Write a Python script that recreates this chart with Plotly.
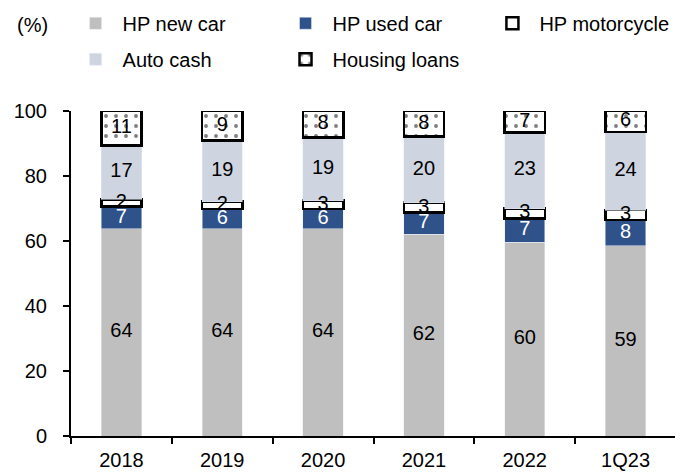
import numpy as np
import plotly.graph_objects as go

categories = ["2018", "2019", "2020", "2021", "2022", "1Q23"]
hp_new_car = [63.7, 63.7, 63.7, 62.1, 59.6, 58.6]
hp_used_car = [6.9, 6.1, 6.1, 6.7, 7.4, 7.9]
hp_motorcycle = [2.2, 2.3, 2.6, 3.0, 3.0, 3.0]
auto_cash = [16.6, 18.9, 19.4, 20.4, 23.4, 24.1]
housing_loans = [10.6, 9.0, 8.2, 7.8, 6.6, 6.4]
y_ticks = [0, 20, 40, 60, 80, 100]

FONT = "Arial, Liberation Sans, sans-serif"
FS = 20

series = [
    ("HP new car", hp_new_car, dict(color="#BFBFBF"), "black", "legend", 0),
    ("HP used car", hp_used_car, dict(color="#2F528A"), "white", "legend2", 0),
    ("HP motorcycle", hp_motorcycle, dict(color="white", line=dict(color="black", width=2.5)), "black", "legend3", 0),
    ("Auto cash", auto_cash, dict(color="#CED4E0"), "black", "legend", 1),
    ("Housing loans", housing_loans,
     dict(color="white", line=dict(color="black", width=2.5),
          pattern=dict(shape=".", fgcolor="black", bgcolor="white", size=10, solidity=0.12)),
     "black", "legend2", 1),
]

fig = go.Figure()
base = np.zeros(len(categories))
label_traces = []
for i, (name, vals, marker, tcol, leg, rank) in enumerate(series):
    v = np.array(vals, dtype=float)
    fig.add_trace(go.Bar(
        x=categories, y=v, name=name, marker=marker,
        legend=leg, legendgroup=name, legendrank=rank,
        hoverinfo="skip",
    ))
    mid = base + v / 2
    label_traces.append(go.Scatter(
        x=categories, y=mid, mode="text", text=[f"{round(x):d}" for x in v],
        textfont=dict(family=FONT, size=FS, color=tcol),
        showlegend=False, hoverinfo="skip",
    ))
    base = base + v
for t in label_traces:
    fig.add_trace(t)

legend_common = dict(
    orientation="v", yanchor="top", xanchor="left", y=1.33, itemwidth=44,
    font=dict(family=FONT, size=FS, color="black"),
    bgcolor="rgba(0,0,0,0)", tracegroupgap=7, itemclick=False, itemdoubleclick=False,
)

fig.update_layout(
    width=675, height=465, autosize=False,
    margin=dict(l=63, r=7, t=103, b=37, autoexpand=False),
    paper_bgcolor="white", plot_bgcolor="white",
    barmode="stack", bargap=0.6,
    font=dict(family=FONT, size=FS, color="black"),
    legend=dict(x=-0.004, **legend_common),
    legend2=dict(x=0.343, **legend_common),
    legend3=dict(x=0.685, **legend_common),
    xaxis=dict(
        type="category", range=[-0.5, 5.5], showline=True, linecolor="black", linewidth=2,
        ticks="outside", tickson="boundaries", ticklen=6, tickwidth=2, tickcolor="black",
        showgrid=False, tickfont=dict(family=FONT, size=FS, color="black"),
        ticklabelstandoff=5,
    ),
    yaxis=dict(
        range=[0, 100], tickvals=y_ticks, showline=True, linecolor="black", linewidth=2,
        ticks="outside", ticklen=6, tickwidth=2, tickcolor="black", showgrid=False,
        zeroline=False, tickfont=dict(family=FONT, size=FS, color="black"),
        ticklabelstandoff=12,
    ),
    annotations=[dict(
        text="(%)", xref="paper", yref="paper", x=-0.063, y=1.265, xanchor="center",
        yanchor="middle", showarrow=False, font=dict(family=FONT, size=FS, color="black"),
    )],
)

fig.write_html("out.html")
